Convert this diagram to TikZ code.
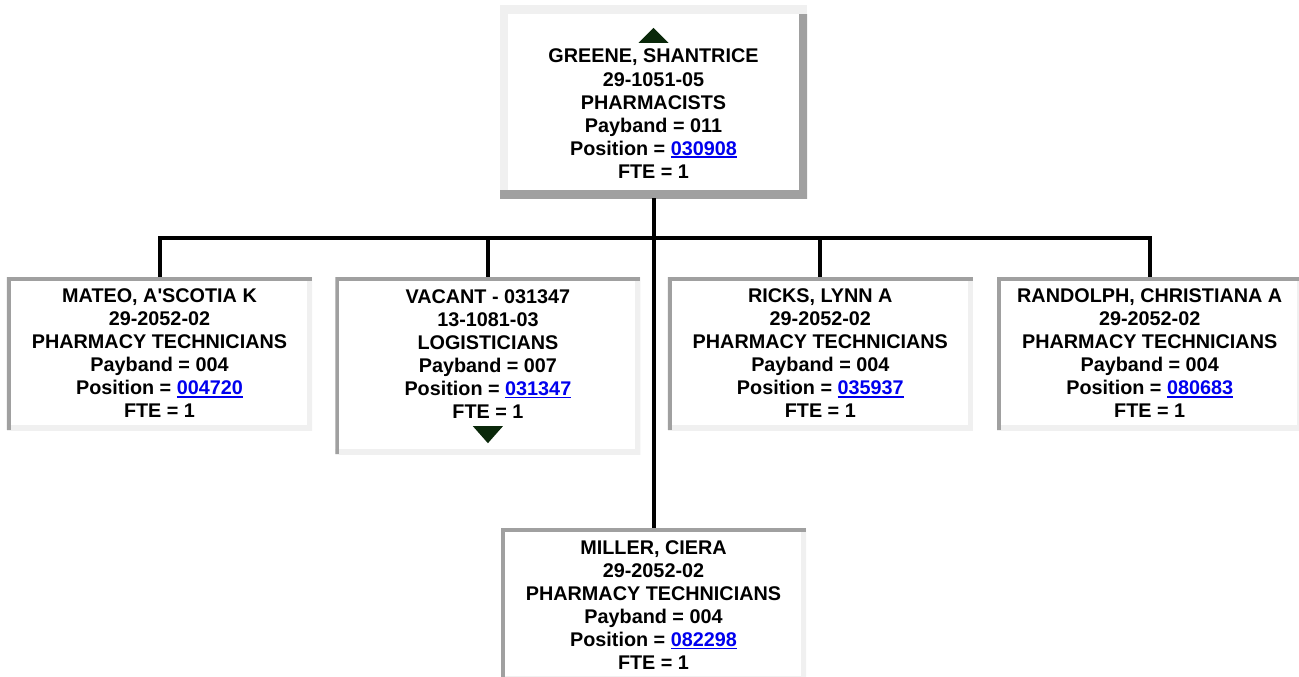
\documentclass[tikz,border=0pt]{standalone}
\usepackage{fontspec}
\setmainfont{Liberation Sans}
\usetikzlibrary{positioning}
\definecolor{edgedark}{RGB}{160,160,160}
\definecolor{edgelight}{RGB}{240,240,240}
\definecolor{linkblue}{RGB}{0,0,238}
\definecolor{navgreen}{RGB}{10,40,10}
\newcommand{\cardfont}{\fontsize{19.8bp}{23bp}\selectfont\bfseries}
\newcommand{\poslink}[1]{{\color{linkblue}\setbox0\hbox{#1}\rlap{\rule[-3bp]{\wd0}{1.8bp}}\box0}}
\tikzset{
  cardbase/.style={rectangle, minimum width=305bp, minimum height=153bp, inner sep=0pt, align=center, font=\cardfont, fill=white},
  card/.style={cardbase,
    path picture={
      \draw[edgelight, line width=10bp] (path picture bounding box.south west) -- (path picture bounding box.south east) -- (path picture bounding box.north east);
      \draw[edgedark, line width=8bp] (path picture bounding box.south west) -- (path picture bounding box.north west) -- (path picture bounding box.north east);}},
  topcard/.style={cardbase, minimum width=307bp, minimum height=192bp,
    path picture={
      \draw[edgedark, line width=16bp] (path picture bounding box.south west) -- (path picture bounding box.south east) -- ([yshift=-8bp]path picture bounding box.north east);
      \draw[edgelight, line width=16bp] ([yshift=8bp]path picture bounding box.south west) -- (path picture bounding box.north west) -- (path picture bounding box.north east);}},
  wire/.style={line width=4bp, black},
}
\begin{document}
\begin{tikzpicture}[x=1bp, y=1bp]
\path[use as bounding box, fill=white] (0,0) rectangle (1299,-676);
% supervisor
\node[topcard] (greene) at (653.5,-102) {\rule{0pt}{14bp}\\GREENE, SHANTRICE\\29-1051-05\\PHARMACISTS\\Payband = 011\\Position = \poslink{030908}\\FTE = 1};
\fill[navgreen] ([yshift=-22bp]greene.north) -- ++(15,-15) -- ++(-30,0) -- cycle;
% direct reports
\node[card] (mateo) at (159.5,-353.5) {MATEO, A\textquotesingle SCOTIA K\\29-2052-02\\PHARMACY TECHNICIANS\\Payband = 004\\Position = \poslink{004720}\\FTE = 1};
\node[card, minimum height=177bp, right=23bp of mateo.north east, anchor=north west] (vacant) {VACANT - 031347\\13-1081-03\\LOGISTICIANS\\Payband = 007\\Position = \poslink{031347}\\FTE = 1\rule[-23bp]{0pt}{23bp}};
\fill[navgreen] ([yshift=11bp]vacant.south) -- ++(15,17) -- ++(-30,0) -- cycle;
\node[card, right=27bp of vacant.north east, anchor=north west] (ricks) {RICKS, LYNN A\\29-2052-02\\PHARMACY TECHNICIANS\\Payband = 004\\Position = \poslink{035937}\\FTE = 1};
\node[card, right=24bp of ricks] (randolph) {RANDOLPH, CHRISTIANA A\\29-2052-02\\PHARMACY TECHNICIANS\\Payband = 004\\Position = \poslink{080683}\\FTE = 1};
\node[card, below=330bp of greene] (miller) {MILLER, CIERA\\29-2052-02\\PHARMACY TECHNICIANS\\Payband = 004\\Position = \poslink{082298}\\FTE = 1};
% connectors
\coordinate (hub) at ([yshift=-40bp]greene.south);
\draw[wire] (greene) -- (miller);
\draw[wire] (mateo) |- (hub) -| (randolph);
\draw[wire] (vacant) -- (vacant |- hub);
\draw[wire] (ricks) -- (ricks |- hub);
\end{tikzpicture}
\end{document}
